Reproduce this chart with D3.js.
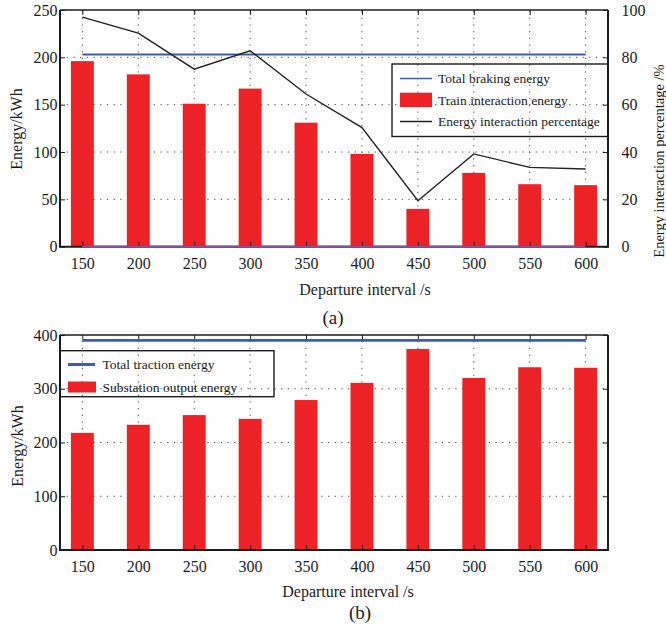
<!DOCTYPE html>
<html>
<head>
<meta charset="utf-8">
<script src="https://cdn.jsdelivr.net/npm/d3@7"></script>
<style>
  html, body { margin: 0; padding: 0; background: #fff; }
  svg, svg text { font-family: "Liberation Serif", "Times New Roman", "DejaVu Serif", serif; }
</style>
</head>
<body>
<svg id="chart" width="666" height="629"></svg>
<script>
// Departure interval (s)
const departureIntervals = [150, 200, 250, 300, 350, 400, 450, 500, 550, 600];

// Panel (a): braking-energy interaction
const trainInteractionEnergy = [196, 182, 151, 167, 131, 98, 40, 78, 66, 65];      // kWh
const interactionPercentage = [97.0, 90.2, 75.0, 82.8, 64.5, 50.3, 19.4, 39.2, 33.5, 32.8]; // %
const totalBrakingEnergy = 203;   // kWh

// Panel (b): traction side
const substationOutputEnergy = [218, 233, 251, 244, 279, 311, 374, 320, 340, 339]; // kWh
const totalTractionEnergy = 390;  // kWh

// Tick labels
const energyTicksA = [0, 50, 100, 150, 200, 250];
const percentTicksA = [0, 20, 40, 60, 80, 100];
const energyTicksB = [0, 100, 200, 300, 400];

const RED = "#ec2227", BLUE = "#3d5caa", PURPLE = "#8b4f9b", INK = "#1c1c1c";
const SERIF = "'Liberation Serif', 'Times New Roman', 'DejaVu Serif', serif";
const FONT = 16;

const svg = d3.select("#chart").attr("font-family", SERIF);
const x = d3.scaleLinear().domain([130, 620]).range([60, 608]);
const barHalf = 10.25;

function styleAxis(g, size) {
  g.attr("font-family", SERIF).attr("font-size", size);
  g.selectAll(".domain").remove();
  g.selectAll(".tick line").attr("stroke", INK).attr("stroke-width", 1);
  g.selectAll(".tick text").attr("fill", INK).attr("font-family", SERIF);
}

function drawGrid(g, y, hTicks) {
  const [yb, yt] = y.range();
  g.selectAll(".vgrid").data(departureIntervals).join("line")
    .attr("x1", d => x(d)).attr("x2", d => x(d))
    .attr("y1", yb).attr("y2", yt)
    .attr("stroke", "#444").attr("stroke-width", 1).attr("stroke-dasharray", "1.2,5.5");
  g.selectAll(".hgrid").data(hTicks).join("line")
    .attr("x1", x.range()[0]).attr("x2", x.range()[1])
    .attr("y1", d => y(d)).attr("y2", d => y(d))
    .attr("stroke", "#444").attr("stroke-width", 1).attr("stroke-dasharray", "1.2,5.5");
}

function drawFrame(g, y) {
  const [x0, x1] = x.range();
  const [yb, yt] = y.range();
  g.append("line").attr("x1", x0).attr("x2", x1).attr("y1", yt).attr("y2", yt)
    .attr("stroke", INK).attr("stroke-width", 1.5);
  g.append("path")
    .attr("d", `M${x0},${yt}V${yb}H${x1}V${yt}`)
    .attr("fill", "none").attr("stroke", INK).attr("stroke-width", 2);
}

function drawAxes(g, y, leftTicks, yRight, rightTicks) {
  const [yb, yt] = y.range();
  g.append("g").attr("transform", `translate(${x.range()[0]},0)`)
    .call(d3.axisLeft(y).tickValues(leftTicks).tickSize(-5).tickPadding(2.5))
    .call(a => styleAxis(a, FONT));
  g.append("g").attr("transform", `translate(0,${yb})`)
    .call(d3.axisBottom(x).tickValues(departureIntervals).tickSize(-5).tickPadding(11).tickFormat(d3.format("d")))
    .call(a => styleAxis(a, FONT));
  g.append("g").attr("transform", `translate(0,${yt})`)
    .call(d3.axisTop(x).tickValues(departureIntervals).tickSize(-5).tickFormat(""))
    .call(a => styleAxis(a, FONT));
  const right = yRight
    ? d3.axisRight(yRight).tickValues(rightTicks).tickSize(-5).tickPadding(13.5)
    : d3.axisRight(y).tickValues(leftTicks).tickSize(-5).tickFormat("");
  g.append("g").attr("transform", `translate(${x.range()[1]},0)`)
    .call(right)
    .call(a => styleAxis(a, FONT));
}

function drawBars(g, y, values) {
  g.selectAll(".bar").data(values).join("rect")
    .attr("x", (d, i) => x(departureIntervals[i] - barHalf))
    .attr("width", (d, i) => x(departureIntervals[i] + barHalf) - x(departureIntervals[i] - barHalf))
    .attr("y", d => y(d))
    .attr("height", d => y(0) - y(d))
    .attr("fill", RED);
}

function hLine(g, y, value, color, width) {
  g.append("line")
    .attr("x1", x(departureIntervals[0])).attr("x2", x(departureIntervals[departureIntervals.length - 1]))
    .attr("y1", y(value)).attr("y2", y(value))
    .attr("stroke", color).attr("stroke-width", width);
}

function label(text, tx, ty, size, rotate) {
  svg.append("text")
    .attr("transform", `translate(${tx},${ty})` + (rotate ? " rotate(-90)" : ""))
    .attr("text-anchor", "middle")
    .attr("font-family", SERIF)
    .attr("font-size", size)
    .attr("fill", INK)
    .text(text);
}

function legendText(g, tx, ty, text) {
  g.append("text").attr("x", tx).attr("y", ty).attr("dy", "0.35em")
    .attr("font-family", SERIF).attr("font-size", 13.5).attr("fill", INK).text(text);
}

/* ---------- Panel (a) ---------- */
const yA = d3.scaleLinear().domain([0, 250]).range([246.7, 10]);
const yAR = d3.scaleLinear().domain([0, 100]).range([246.7, 10]);
const gA = svg.append("g");

drawGrid(gA.append("g"), yA, [50, 100, 150, 200]);
drawBars(gA.append("g"), yA, trainInteractionEnergy);
drawFrame(gA, yA);
drawAxes(gA, yA, energyTicksA, yAR, percentTicksA);
hLine(gA, yA, totalBrakingEnergy, BLUE, 2);
hLine(gA, yA, 0, PURPLE, 2.2);
gA.append("path")
  .datum(interactionPercentage)
  .attr("d", d3.line().x((d, i) => x(departureIntervals[i])).y(d => yAR(d)))
  .attr("fill", "none").attr("stroke", "#222").attr("stroke-width", 1.4);

// legend (a)
const lgA = gA.append("g");
lgA.append("rect").attr("x", 392).attr("y", 64).attr("width", 216).attr("height", 72.5)
  .attr("fill", "none").attr("stroke", INK).attr("stroke-width", 1.4);
const legendA = [
  { name: "Total braking energy", type: "line", color: BLUE, cy: 78.5 },
  { name: "Train interaction energy", type: "bar", color: RED, cy: 100 },
  { name: "Energy interaction percentage", type: "line", color: "#222", cy: 121.5 }
];
legendA.forEach(d => {
  if (d.type === "line") {
    lgA.append("line").attr("x1", 400).attr("x2", 432).attr("y1", d.cy).attr("y2", d.cy)
      .attr("stroke", d.color).attr("stroke-width", 1.5);
  } else {
    lgA.append("rect").attr("x", 400).attr("y", d.cy - 7.3).attr("width", 32).attr("height", 14.3)
      .attr("fill", d.color);
  }
  legendText(lgA, 438, d.cy, d.name);
});

label("Energy/kWh", 22, 129, FONT, true);
label("Energy interaction percentage /%", 664, 161, 14.5, true);
label("Departure interval /s", 365, 295, FONT, false);
label("(a)", 333, 324, 19, false);

/* ---------- Panel (b) ---------- */
const yB = d3.scaleLinear().domain([0, 400]).range([550, 335]);
const gB = svg.append("g");

drawGrid(gB.append("g"), yB, [100, 200, 300]);
drawBars(gB.append("g"), yB, substationOutputEnergy);
drawFrame(gB, yB);
drawAxes(gB, yB, energyTicksB, null, null);
hLine(gB, yB, totalTractionEnergy, BLUE, 2.6);

// legend (b)
const lgB = gB.append("g");
lgB.append("rect").attr("x", 60).attr("y", 350.7).attr("width", 214).attr("height", 46)
  .attr("fill", "none").attr("stroke", INK).attr("stroke-width", 1.4);
lgB.append("line").attr("x1", 68).attr("x2", 95).attr("y1", 364.5).attr("y2", 364.5)
  .attr("stroke", BLUE).attr("stroke-width", 3);
lgB.append("rect").attr("x", 68).attr("y", 381.5).attr("width", 28).attr("height", 11).attr("fill", RED);
legendText(lgB, 102.5, 364.5, "Total traction energy");
legendText(lgB, 102.5, 387, "Substation output energy");

label("Energy/kWh", 23, 446, FONT, true);
label("Departure interval /s", 348, 597, FONT, false);
label("(b)", 360, 619, 19, false);
</script>
</body>
</html>
